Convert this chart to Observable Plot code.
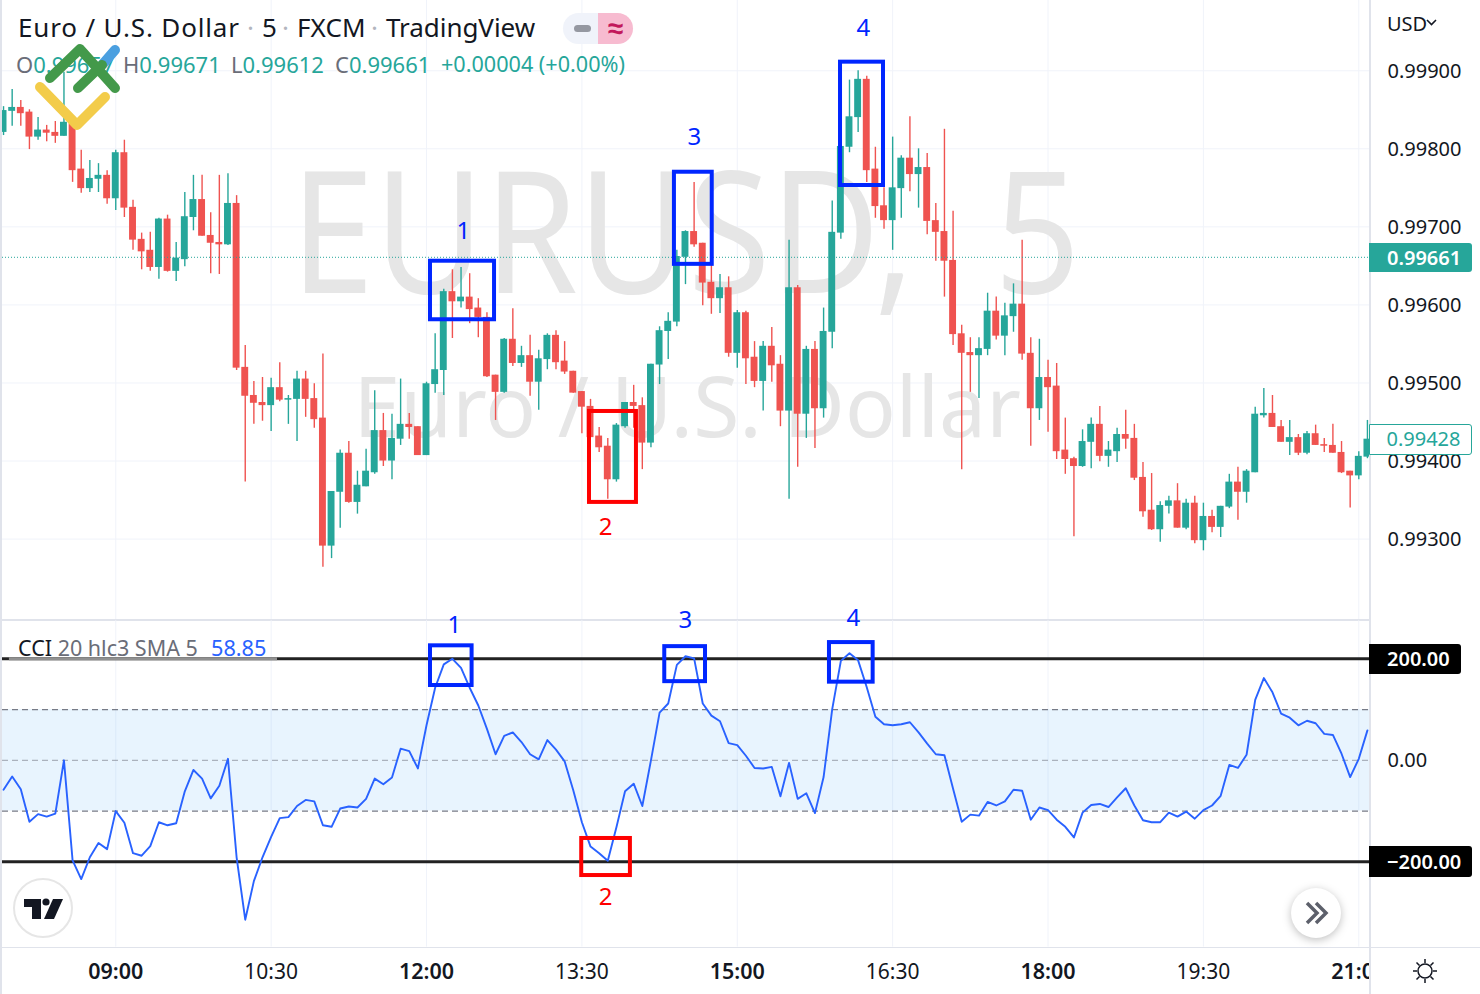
<!DOCTYPE html>
<html><head><meta charset="utf-8">
<script src="https://cdn.jsdelivr.net/npm/d3@7"></script>
<script src="https://cdn.jsdelivr.net/npm/@observablehq/plot@0.6"></script>
<style>
html,body{margin:0;padding:0;background:#fff;width:1480px;height:994px;overflow:hidden;font-family:"Noto Sans",sans-serif}
#stage{position:relative;width:1480px;height:994px;overflow:hidden}
.h{position:absolute;white-space:nowrap;line-height:1}
.box{position:absolute;box-sizing:border-box;text-align:left;padding-left:18px;white-space:nowrap;font-size:20px}
.t{position:absolute;top:12px;font-size:26px;line-height:30px;white-space:nowrap}
</style></head><body><div id="stage"></div>
<script>
// --- data (prices in 1e-5 USD, time in minutes after midnight) ---
const firstBarMinute = 475, barMinutes = 5;
const opens = [99821,99848,99853,99847,99815,99824,99821,99816,99832,99774,
99749,99761,99766,99736,99795,99725,99684,99670,99648,99710,
99643,99658,99712,99735,99689,99680,99677,99730,99520,99484,
99475,99471,99494,99478,99479,99505,99480,99455,99291,99360,
99410,99347,99367,99385,99439,99400,99428,99447,99444,99407,
99498,99516,99617,99604,99610,99596,99584,99510,99488,99556,
99525,99535,99501,99530,99561,99528,99515,99489,99470,99432,
99419,99376,99444,99475,99471,99423,99523,99566,99578,99661,
99694,99679,99629,99608,99622,99538,99590,99533,99502,99547,
99524,99464,99622,99460,99543,99467,99565,99692,99802,99840,
99889,99774,99727,99708,99749,99788,99767,99776,99708,99694,
99657,99563,99539,99535,99543,99592,99560,99585,99601,99538,
99467,99507,99496,99414,99403,99393,99424,99447,99406,99412,
99434,99429,99379,99337,99312,99342,99349,99314,99346,99298,
99329,99315,99341,99373,99360,99385,99458,99461,99444,99424,
99430,99410,99435,99421,99420,99411,99387,99381,99405];
const closes = [99849,99853,99845,99815,99824,99820,99816,99834,99772,99749,
99762,99766,99736,99795,99724,99683,99668,99648,99710,99643,
99660,99713,99735,99688,99679,99677,99730,99519,99483,99474,
99471,99494,99478,99480,99505,99479,99453,99291,99361,99410,
99347,99369,99387,99439,99400,99429,99447,99443,99407,99499,
99517,99617,99604,99610,99594,99584,99508,99488,99556,99525,
99535,99501,99531,99561,99526,99514,99487,99469,99430,99417,
99376,99446,99475,99470,99423,99524,99567,99579,99662,99694,
99677,99628,99608,99622,99538,99590,99531,99502,99547,99522,
99464,99622,99460,99543,99467,99566,99693,99803,99841,99889,
99772,99726,99708,99750,99788,99767,99776,99707,99693,99656,
99562,99538,99535,99544,99592,99560,99586,99601,99537,99467,
99507,99494,99412,99402,99393,99425,99447,99406,99414,99434,
99428,99378,99335,99312,99343,99349,99314,99346,99298,99329,
99315,99342,99373,99360,99387,99460,99461,99443,99424,99430,
99410,99435,99420,99419,99410,99385,99381,99406,99428];
const highs = [99854,99876,99862,99850,99840,99830,99835,99898,99834,99798,
99785,99781,99772,99798,99811,99734,99692,99693,99711,99715,
99680,99744,99766,99766,99718,99766,99768,99740,99548,99502,
99507,99506,99526,99484,99515,99515,99499,99537,99361,99414,
99425,99387,99415,99490,99461,99460,99505,99461,99444,99501,
99563,99620,99645,99648,99640,99608,99590,99510,99557,99595,
99547,99561,99542,99563,99567,99553,99515,99489,99479,99443,
99429,99448,99475,99497,99481,99524,99572,99590,99670,99695,
99757,99679,99651,99639,99636,99593,99592,99553,99553,99571,
99535,99683,99625,99547,99553,99596,99733,99803,99888,99900,
99893,99802,99750,99815,99791,99841,99800,99794,99730,99825,
99720,99574,99558,99558,99615,99610,99602,99627,99683,99558,
99556,99529,99525,99455,99405,99440,99455,99470,99425,99442,
99465,99447,99398,99384,99348,99355,99371,99351,99355,99346,
99337,99342,99383,99392,99389,99469,99493,99484,99452,99452,
99434,99438,99446,99429,99447,99425,99387,99412,99452];
const lows = [99817,99829,99829,99799,99811,99809,99807,99816,99757,99743,
99744,99744,99729,99721,99712,99670,99645,99643,99633,99642,
99630,99649,99695,99688,99640,99639,99676,99516,99373,99447,
99451,99438,99476,99447,99425,99456,99442,99264,99275,99314,
99346,99332,99367,99383,99393,99376,99420,99428,99407,99407,
99487,99484,99557,99596,99576,99558,99507,99452,99487,99521,
99520,99483,99465,99517,99517,99511,99487,99435,99430,99411,
99351,99373,99442,99442,99389,99417,99498,99530,99572,99626,
99674,99599,99588,99589,99533,99519,99498,99494,99464,99501,
99444,99351,99392,99429,99416,99455,99544,99684,99795,99821,
99757,99711,99697,99670,99711,99745,99724,99690,99656,99610,
99548,99389,99488,99480,99535,99555,99535,99565,99529,99419,
99452,99437,99402,99383,99303,99392,99390,99399,99392,99398,
99415,99375,99328,99311,99296,99332,99314,99312,99294,99285,
99308,99302,99339,99324,99346,99385,99455,99443,99424,99407,
99407,99408,99420,99411,99410,99384,99340,99376,99403];
const cci = [-58,-32,-57,-121,-106,-111,-105,0,-197,-234,
-191,-163,-175,-100,-123,-183,-188,-169,-122,-128,
-124,-61,-19,-36,-75,-50,3,-191,-314,-238,
-191,-151,-114,-112,-90,-78,-81,-128,-131,-95,
-91,-93,-76,-36,-47,-34,23,18,-16,69,
143,189,200,182,143,108,62,12,48,55,
36,12,2,40,21,-2,-59,-122,-170,-183,
-198,-132,-61,-46,-90,0,94,112,188,205,
201,112,88,77,34,30,9,-15,-16,-13,
-71,-5,-76,-65,-104,-33,101,196,211,197,
144,86,71,69,71,75,55,33,12,10,
-56,-121,-107,-109,-82,-89,-81,-58,-60,-117,
-93,-98,-117,-131,-152,-103,-88,-86,-92,-73,
-55,-89,-118,-122,-122,-103,-111,-101,-115,-98,
-89,-70,-9,-15,11,119,162,134,92,84,
69,78,73,52,50,13,-33,3,59];
const priceTicks = [99300,99400,99500,99600,99700,99800,99900];
const lastPrice = 99661, lastBarClose = 99428;
const timeTicks = [540,630,720,810,900,990,1080,1170,1260];
const timeLabels = ["09:00","10:30","12:00","13:30","15:00","16:30","18:00","19:30","21:00"];
const timeBold = [true,false,true,false,true,false,true,false,true];
const cciBounds = [200,-200], cciBand = [100,-100], cciMid = 0, cciLast = "58.85";
const priceBoxes = [
 {x1:722.3,x2:759.4,y1:99656,y2:99581,c:"#0026ff"},
 {x1:814.4,x2:841.6,y1:99463.5,y2:99347,c:"#ff0000"},
 {x1:863.6,x2:885.5,y1:99770,y2:99652,c:"#0026ff"},
 {x1:959.8,x2:984.7,y1:99911,y2:99753,c:"#0026ff"}];
const priceNotes = [
 {x:741.4,y:99694,t:"1",c:"#0026ff"},{x:823.7,y:99315,t:"2",c:"#ff0000"},
 {x:875.2,y:99815,t:"3",c:"#0026ff"},{x:973.1,y:99954,t:"4",c:"#0026ff"}];
const cciBoxes = [
 {x1:722.3,x2:746.4,y1:225.6,y2:147.4,c:"#0026ff"},
 {x1:809.9,x2:838.1,y1:-154,y2:-227,c:"#ff0000"},
 {x1:858,x2:881.6,y1:224,y2:155,c:"#0026ff"},
 {x1:953.4,x2:978.7,y1:232,y2:154,c:"#0026ff"}];
const cciNotes = [
 {x:736.2,y:265.6,t:"1",c:"#0026ff"},{x:823.7,y:-270,t:"2",c:"#ff0000"},
 {x:870,y:275,t:"3",c:"#0026ff"},{x:967.3,y:279,t:"4",c:"#0026ff"}];

// --- build ---
const bars = opens.map((o,i)=>({t:firstBarMinute+i*barMinutes,o,c:closes[i],h:highs[i],l:lows[i],v:cci[i]}));
const up = bars.filter(d=>d.c>=d.o), down = bars.filter(d=>d.c<d.o);
const GREEN="#26a69a", RED="#ef5350", GRID="#f0f3fa", BORDER="#e0e3eb", INK="#131722";
const xDomain=[474.4,1266.2];
const font={fontFamily:"Noto Sans",background:"transparent",overflow:"visible"};
const stage=document.getElementById("stage");
const place=(el,y)=>{el.style.position="absolute";el.style.left="0";el.style.top=y+"px";stage.appendChild(el);};
const add=(html)=>{const w=document.createElement("div");w.innerHTML=html;while(w.firstChild)stage.appendChild(w.firstChild);};
const fmtP=d=>(d/1e5).toFixed(5);
const candle=(data,col)=>[
 Plot.ruleX(data,{x:"t",y1:"l",y2:"h",stroke:col,strokeWidth:1.4,clip:true}),
 Plot.rect(data,{x1:d=>d.t-2,x2:d=>d.t+2,y1:"o",y2:"c",fill:col,clip:true})];

const pricePlot=Plot.plot({width:1480,height:619,marginLeft:2,marginRight:111,marginTop:0,marginBottom:0,style:font,
 x:{domain:xDomain,axis:null},
 y:{domain:[99197,99990],axis:null},
 marks:[
  Plot.ruleY(priceTicks,{stroke:GRID,strokeWidth:1}),
  Plot.ruleX(timeTicks,{stroke:GRID,strokeWidth:1}),
  Plot.text(["EURUSD, 5"],{x:870,y:99685,text:d=>d,fontSize:170,fill:"#e6e6e6",fontFamily:"Noto Sans",clip:true}),
  Plot.text(["Euro / U.S. Dollar"],{x:871,y:99465,text:d=>d,fontSize:84,fill:"#e6e6e6",fontFamily:"Noto Sans",clip:true}),
  ...candle(up,GREEN),...candle(down,RED),
  Plot.ruleY([lastPrice],{stroke:GREEN,strokeWidth:1,strokeDasharray:"1 2"}),
  Plot.rect(priceBoxes,{x1:"x1",x2:"x2",y1:"y1",y2:"y2",stroke:"c",strokeWidth:4,fill:"none"}),
  Plot.text(priceNotes,{x:"x",y:"y",text:"t",fill:"c",fontSize:24,fontFamily:"Noto Sans"}),
  Plot.axisY(priceTicks,{anchor:"right",tickSize:0,tickPadding:18,tickFormat:fmtP,fontSize:20,fill:INK,label:null,dy:0.5})
 ]});
pricePlot.querySelectorAll("text").forEach(t=>{if(t.textContent.startsWith("EURUSD")){
 t.style.wordSpacing="46px";t.setAttribute("transform",(t.getAttribute("transform")||"")+" scale(.885,1)");}});

const cciPlot=Plot.plot({width:1480,height:347,marginLeft:2,marginRight:111,marginTop:0,marginBottom:0,style:font,
 x:{domain:xDomain,axis:null},
 y:{domain:[-368.8,314.9],axis:null},
 marks:[
  Plot.ruleX(timeTicks,{y1:275,y2:-368,stroke:GRID,strokeWidth:1}),
  Plot.rect([cciBand],{x1:xDomain[0],x2:xDomain[1],y1:d=>d[0],y2:d=>d[1],fill:"#2196f3",fillOpacity:0.1}),
  Plot.ruleY(cciBand,{stroke:"#787b86",strokeWidth:1.3,strokeDasharray:"6 4"}),
  Plot.ruleY([cciMid],{stroke:"#787b86",strokeOpacity:0.55,strokeWidth:1.3,strokeDasharray:"6 4"}),
  Plot.ruleY(cciBounds,{stroke:"#222",strokeWidth:3}),
  Plot.ruleY([200],{x1:478.4,x2:633.7,stroke:"#909090",strokeWidth:3}),
  Plot.line(bars,{x:"t",y:"v",stroke:"#2962ff",strokeWidth:1.9,curve:"linear",clip:true}),
  Plot.rect(cciBoxes,{x1:"x1",x2:"x2",y1:"y1",y2:"y2",stroke:"c",strokeWidth:4,fill:"none"}),
  Plot.text(cciNotes,{x:"x",y:"y",text:"t",fill:"c",fontSize:24,fontFamily:"Noto Sans"}),
  Plot.axisY([cciMid],{anchor:"right",tickSize:0,tickPadding:18,tickFormat:d=>d.toFixed(2),fontSize:20,fill:INK,label:null})
 ]});

const timePlot=Plot.plot({width:1480,height:47,marginLeft:2,marginRight:111,marginTop:0,marginBottom:0,style:font,
 x:{domain:xDomain,axis:null},y:{axis:null,domain:[0,1]},
 marks:[
  Plot.text(timeTicks.filter((d,i)=>timeBold[i]),{x:d=>d,frameAnchor:"middle",dy:1.5,text:d=>timeLabels[timeTicks.indexOf(d)],fontSize:21.5,fontWeight:600,fill:INK,clip:true}),
  Plot.text(timeTicks.filter((d,i)=>!timeBold[i]),{x:d=>d,frameAnchor:"middle",dy:1.5,text:d=>timeLabels[timeTicks.indexOf(d)],fontSize:21,fill:INK,clip:true})
 ]});

// pane borders go beneath the plots so notes are not struck through
add(`
<div class="h" style="left:0;top:0;width:2px;height:994px;background:${BORDER}"></div>
<div class="h" style="left:0;top:619px;width:1369px;height:2px;background:${BORDER}"></div>
<div class="h" style="left:0;top:947px;width:1480px;height:1px;background:${BORDER}"></div>
<div class="h" style="left:1369px;top:0;width:2px;height:994px;background:${BORDER}"></div>`);
place(pricePlot,0); place(cciPlot,600); place(timePlot,947);

// --- chrome overlay ---
add(`
<div class="t" style="left:18px;color:${INK};letter-spacing:.85px">Euro / U.S. Dollar</div>
<div class="t" style="left:247px;color:#b2b5be">·</div>
<div class="t" style="left:262px;color:${INK}">5</div>
<div class="t" style="left:282px;color:#b2b5be">·</div>
<div class="t" style="left:297px;color:${INK};letter-spacing:.1px">FXCM</div>
<div class="t" style="left:371px;color:#b2b5be">·</div>
<div class="t" style="left:386px;color:${INK};letter-spacing:-.05px">TradingView</div>
<div class="h" style="left:16px;top:52px;font-size:22px;line-height:24px;color:${GREEN}"><span style="color:#6a6d78">O</span>0.99657</div>
<div class="h" style="left:123px;top:52px;font-size:22px;line-height:24px;color:${GREEN}"><span style="color:#6a6d78">H</span>0.99671</div>
<div class="h" style="left:231px;top:52px;font-size:22px;line-height:24px;color:${GREEN}"><span style="color:#6a6d78">L</span>0.99612</div>
<div class="h" style="left:335px;top:52px;font-size:22px;line-height:24px;color:${GREEN}"><span style="color:#6a6d78">C</span>0.99661</div>
<div class="h" style="left:441px;top:52px;font-size:21.6px;line-height:24px;color:${GREEN}">+0.00004 (+0.00%)</div>
<div class="h" style="left:563px;top:13px;width:35px;height:31px;background:#f0f3fa;border-radius:16px 0 0 16px"></div>
<div class="h" style="left:598px;top:13px;width:35px;height:31px;background:#f7bbd0;border-radius:0 16px 16px 0;color:#c2185b;text-align:center;font-size:28px;font-weight:700;line-height:29px">≈</div>
<div class="h" style="left:574px;top:25px;width:17px;height:7px;background:#9598a1;border-radius:4px"></div>
<div class="h" style="left:18px;top:636px;font-size:21.5px;line-height:24px;color:#6a6d78"><span style="color:${INK}">CCI</span> 20 hlc3 SMA 5</div>
<div class="h" style="left:211px;top:636px;font-size:21.7px;line-height:24px;color:#2962ff">${cciLast}</div>
<div class="h" style="left:1387px;top:12px;font-size:20px;line-height:24px;color:${INK}">USD</div>
<svg style="position:absolute;left:1425px;top:17px" width="14" height="12"><path d="M2 3l4.5 4.5L11 3" fill="none" stroke="#131722" stroke-width="1.6"/></svg>
<div class="box" style="left:1369px;top:243px;width:103px;height:29px;background:${GREEN};color:#fff;line-height:29px;border-radius:0 3px 3px 0;font-weight:600">${fmtP(lastPrice)}</div>
<div class="box" style="left:1369px;top:424px;width:103px;height:31px;background:#fff;border:1.5px solid ${GREEN};border-radius:0 3px 3px 0;color:${GREEN};line-height:28px;padding-left:16.5px">${fmtP(lastBarClose)}</div>
<div class="box" style="left:1369px;top:644px;width:92px;height:30px;background:#000;color:#fff;line-height:30px;border-radius:0 3px 3px 0;font-weight:600">${cciBounds[0].toFixed(2)}</div>
<div class="box" style="left:1369px;top:846px;width:103px;height:31px;background:#000;color:#fff;line-height:31px;border-radius:0 3px 3px 0;font-weight:600">−${Math.abs(cciBounds[1]).toFixed(2)}</div>
<svg style="position:absolute;left:0;top:0;pointer-events:none" width="140" height="140">
 <g fill="none" stroke-linecap="round" stroke-linejoin="round" stroke-width="10">
  <path d="M102 65L115 50" stroke="#4a9fe0"/>
  <path d="M40 87L77 125L105 97" stroke="#f3cc4a"/>
  <path d="M50 78L80 49L115 88" stroke="#43994a"/>
  <path d="M78 88L102 65" stroke="#43994a"/>
 </g></svg>
<svg style="position:absolute;left:10px;top:876px" width="66" height="66">
 <circle cx="33" cy="32" r="29" fill="#fff" stroke="#e6e6e6" stroke-width="2"/>
 <path d="M14 23H31V43H22V31H14Z" fill="#131722"/><circle cx="36" cy="26" r="3.6" fill="#131722"/>
 <path d="M43 23H53L44 43H34Z" fill="#131722"/></svg>
<svg style="position:absolute;left:1284px;top:881px;overflow:visible" width="66" height="66">
 <circle cx="32" cy="32" r="25" fill="#fff" style="filter:drop-shadow(0 2px 4px rgba(0,0,0,.25))"/>
 <path d="M23 22l10 10-10 10M32 22l10 10-10 10" fill="none" stroke="#5d606b" stroke-width="3.5"/></svg>
<svg style="position:absolute;left:1411px;top:957px" width="28" height="28"><g fill="none" stroke="#131722" stroke-width="1.5">
 <circle cx="14" cy="14" r="7"/><path d="M14 2v4M14 22v4M2 14h4M22 14h4M5.5 5.5l3 3M19.5 19.5l3 3M5.5 22.5l3-3M19.5 8.5l3-3"/></g></svg>
`);
</script></body></html>
